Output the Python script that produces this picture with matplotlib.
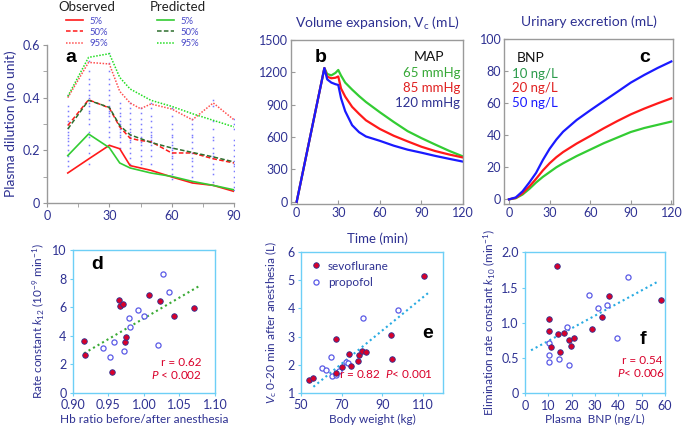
import matplotlib
matplotlib.use("Agg")
import matplotlib.pyplot as plt
from matplotlib.lines import Line2D

plt.rcParams['font.family'] = ['Lato', 'DejaVu Sans']
plt.rcParams['mathtext.fontset'] = 'custom'
plt.rcParams['mathtext.rm'] = 'Lato'
plt.rcParams['mathtext.it'] = 'Lato:italic'

NAVY = '#2e3192'
GRAY = '#9a9a9a'
CYAN = '#6dcff6'
RED = '#ff1a1a'
GREEN = '#33cc33'
DKGREEN = '#2d6e2d'
BLUE = '#1a1aff'

# ---- panel a: plasma dilution ----
t_obs = [10, 20, 30, 35, 40, 45, 50, 60, 70, 80, 90]
obs_p5 = [0.114, 0.167, 0.219, 0.206, 0.142, 0.133, 0.124, 0.099, 0.076, 0.067, 0.044]
obs_p50 = [0.294, 0.392, 0.361, 0.289, 0.246, 0.237, 0.233, 0.190, 0.190, 0.168, 0.152]
obs_p95 = [0.400, 0.534, 0.528, 0.424, 0.380, 0.358, 0.376, 0.357, 0.316, 0.380, 0.316]
t_pred = [10, 20, 30, 35, 40, 50, 60, 70, 80, 90]
pred_p5 = [0.180, 0.262, 0.210, 0.152, 0.133, 0.114, 0.101, 0.082, 0.067, 0.050]
pred_p50 = [0.281, 0.390, 0.363, 0.294, 0.259, 0.230, 0.209, 0.192, 0.175, 0.156]
pred_p95 = [0.405, 0.553, 0.567, 0.477, 0.433, 0.390, 0.367, 0.339, 0.314, 0.289]
dots = {
    10: [0.41, 0.37, 0.35, 0.33, 0.31, 0.30, 0.285, 0.27, 0.26, 0.245, 0.235, 0.22, 0.20, 0.18, 0.16, 0.14],
    20: [0.54, 0.50, 0.47, 0.45, 0.43, 0.41, 0.40, 0.38, 0.37, 0.35, 0.34, 0.32, 0.30, 0.27, 0.25, 0.22, 0.19, 0.15],
    30: [0.57, 0.53, 0.50, 0.47, 0.45, 0.43, 0.41, 0.39, 0.37, 0.36, 0.35, 0.34, 0.33, 0.31, 0.29, 0.27, 0.25, 0.22],
    35: [0.38, 0.36, 0.34, 0.33, 0.31, 0.30, 0.29, 0.28, 0.27, 0.26, 0.25, 0.23, 0.21],
    40: [0.38, 0.36, 0.34, 0.32, 0.30, 0.28, 0.27, 0.26, 0.25, 0.24, 0.23, 0.21, 0.19, 0.17, 0.15],
    45: [0.36, 0.34, 0.32, 0.30, 0.28, 0.27, 0.25, 0.24, 0.23, 0.22, 0.20, 0.18, 0.16, 0.15],
    50: [0.38, 0.36, 0.33, 0.31, 0.29, 0.27, 0.26, 0.25, 0.24, 0.23, 0.22, 0.20, 0.18, 0.15],
    60: [0.36, 0.33, 0.30, 0.28, 0.26, 0.25, 0.23, 0.22, 0.21, 0.20, 0.19, 0.18, 0.17, 0.15, 0.13, 0.11, 0.09],
    70: [0.32, 0.30, 0.28, 0.26, 0.25, 0.23, 0.21, 0.19, 0.17, 0.16, 0.14, 0.12, 0.10, 0.08],
    80: [0.39, 0.37, 0.31, 0.28, 0.25, 0.24, 0.21, 0.19, 0.18, 0.17, 0.15, 0.13, 0.11, 0.08, 0.07],
    90: [0.32, 0.30, 0.28, 0.24, 0.22, 0.20, 0.18, 0.16, 0.15, 0.14, 0.12, 0.10, 0.08, 0.06, 0.05],
}

# ---- panel b: volume expansion ----
t_b = [0, 20, 22, 25, 28, 30, 32, 35, 40, 45, 50, 60, 70, 80, 90, 100, 110, 120]
vc_65 = [0, 1240, 1185, 1172, 1195, 1222, 1170, 1105, 1040, 980, 925, 830, 740, 655, 590, 530, 472, 420]
vc_85 = [0, 1240, 1160, 1145, 1150, 1162, 1050, 975, 880, 815, 755, 675, 612, 560, 510, 470, 438, 410]
vc_120 = [0, 1240, 1135, 1105, 1090, 1083, 960, 840, 710, 645, 605, 565, 520, 483, 455, 425, 398, 372]

# ---- panel c: urinary excretion ----
t_c = [0, 5, 10, 15, 20, 25, 30, 35, 40, 50, 60, 70, 80, 90, 100, 110, 120]
ur_10 = [0, 0.7, 3.0, 6.5, 10.5, 14.0, 17.0, 20.0, 22.5, 27.0, 31.0, 35.0, 38.5, 42.0, 44.5, 46.5, 48.5]
ur_20 = [0, 0.9, 3.8, 8.0, 12.8, 18.0, 22.5, 26.3, 29.5, 34.8, 39.5, 44.3, 48.8, 53.0, 56.6, 59.9, 63.0]
ur_50 = [0, 1.2, 5.0, 10.5, 16.5, 24.5, 31.5, 37.3, 42.2, 49.5, 55.5, 61.3, 67.0, 72.8, 77.6, 82.0, 86.0]

# ---- panel d ----
d_sevo_x = [0.916, 0.917, 0.955, 0.965, 0.967, 0.970, 0.974, 0.975, 1.007, 1.022, 1.042, 1.070]
d_sevo_y = [3.62, 2.66, 1.43, 6.50, 6.05, 6.19, 3.53, 3.93, 6.87, 6.45, 5.35, 5.91]
d_prop_x = [0.942, 0.953, 0.958, 0.972, 0.979, 0.981, 0.992, 1.000, 1.020, 1.027, 1.036]
d_prop_y = [3.15, 2.48, 3.55, 2.94, 5.26, 4.58, 5.79, 5.40, 3.34, 8.34, 7.08]
d_fit_x = [0.916, 1.078]
d_fit_y = [2.76, 7.48]

# ---- panel e ----
e_sevo_x = [54.1, 55.7, 67.0, 67.2, 70.2, 73.4, 74.8, 78.2, 78.4, 80.2, 82.0, 94.1, 94.9, 110.5]
e_sevo_y = [1.44, 1.53, 2.92, 1.69, 1.90, 2.37, 1.96, 2.12, 2.34, 2.47, 2.44, 3.07, 2.19, 5.17]
e_prop_x = [60.2, 62.1, 64.9, 65.1, 67.0, 68.7, 72.0, 73.3, 80.3, 97.9]
e_prop_y = [1.89, 1.81, 2.27, 1.59, 1.63, 1.78, 2.10, 2.05, 3.67, 3.95]
e_fit_x = [56.1, 113.4]
e_fit_y = [1.21, 4.60]

# ---- panel f ----
f_sevo_x = [13.6, 10.1, 10.1, 11.1, 14.1, 15.1, 16.9, 18.7, 19.6, 21.1, 28.7, 32.9, 36.1, 58.1]
f_sevo_y = [1.81, 1.06, 0.89, 0.65, 0.84, 0.59, 0.86, 0.75, 0.67, 0.79, 0.91, 1.08, 1.38, 1.32]
f_prop_x = [10.1, 10.1, 10.1, 14.7, 18.1, 19.0, 27.3, 31.1, 35.1, 39.4, 44.0]
f_prop_y = [0.71, 0.54, 0.45, 0.49, 0.94, 0.40, 1.39, 1.21, 1.25, 0.78, 1.65]
f_fit_x = [2.6, 56.7]
f_fit_y = [0.61, 1.58]

W, H = 685, 428
fig = plt.figure(figsize=(W / 100, H / 100), dpi=100)


def add_ax(left, top, right, bottom):
    return fig.add_axes([left / W, 1 - bottom / H, (right - left) / W, (bottom - top) / H])


def style(ax, spine_color, tick_dir):
    for s in ax.spines.values():
        s.set_color(spine_color)
        s.set_linewidth(1.0)
    ax.tick_params(direction=tick_dir, color=spine_color, labelcolor=NAVY,
                   labelsize=9, length=3, width=0.8, pad=2)


# panel a
ax = add_ax(47, 45, 234, 203)
style(ax, GRAY, 'out')
ax.spines['top'].set_visible(False)
ax.spines['right'].set_visible(False)
for t, vals in dots.items():
    ax.plot([t] * len(vals), vals, 's', ms=1.1, color='#7a7aff', mec='none')
ax.plot(t_obs, obs_p5, color=RED, lw=1.2)
ax.plot(t_obs, obs_p50, color=RED, lw=1.1, ls=(0, (3, 1.5)))
ax.plot(t_obs, obs_p95, color='#ff5050', lw=1.1, ls=(0, (1, 1)))
ax.plot(t_pred, pred_p5, color=GREEN, lw=1.2)
ax.plot(t_pred, pred_p50, color=DKGREEN, lw=1.1, ls=(0, (3, 1.5)))
ax.plot(t_pred, pred_p95, color='#22dd22', lw=1.1, ls=(0, (1, 1)))
ax.set_xlim(0, 90)
ax.set_ylim(0, 0.6)
ax.set_xticks([0, 30, 60, 90])
ax.set_xticks([15, 45, 75], minor=True)
ax.set_yticks([0, 0.2, 0.4, 0.6])
ax.set_yticklabels(['0', '0.2', '0.4', '0.6'])
ax.set_yticks([0.1, 0.3, 0.5], minor=True)
ax.tick_params(which='minor', direction='out', color=GRAY, length=3)
ax.set_ylabel('Plasma dilution (no unit)', color=NAVY, fontsize=10, labelpad=4)
ax.text(0.1, 0.92, 'a', transform=ax.transAxes, fontsize=14, fontweight='bold',
        family='Liberation Sans', va='center')

obs_h = [Line2D([], [], color=RED, lw=1.2),
         Line2D([], [], color=RED, lw=1.1, ls=(0, (3, 1.5))),
         Line2D([], [], color='#ff5050', lw=1.1, ls=(0, (1, 1)))]
pred_h = [Line2D([], [], color=GREEN, lw=1.2),
          Line2D([], [], color=DKGREEN, lw=1.1, ls=(0, (3, 1.5))),
          Line2D([], [], color='#22dd22', lw=1.1, ls=(0, (1, 1)))]
for handles, title, cx in [(obs_h, 'Observed', 87), (pred_h, 'Predicted', 178)]:
    lg = fig.legend(handles, ['5%', '50%', '95%'], title=title, loc='upper center',
                    bbox_to_anchor=(cx / W, 1.012), frameon=False, fontsize=6.8,
                    title_fontsize=9.5, labelcolor='#4848c8', handlelength=1.8,
                    handletextpad=0.6, labelspacing=0.22, borderpad=0.1)
    lg.get_title().set_color('#222222')
    lg._legend_box.sep = 3

# panel b
ax = add_ax(291, 40, 463, 204)
style(ax, GRAY, 'in')
ax.plot(t_b, vc_65, color=GREEN, lw=1.6)
ax.plot(t_b, vc_85, color=RED, lw=1.6)
ax.plot(t_b, vc_120, color=BLUE, lw=1.6)
ax.set_xlim(-4.1, 120)
ax.set_ylim(-21, 1500)
ax.set_xticks([0, 30, 60, 90, 120])
ax.set_yticks([0, 300, 600, 900, 1200, 1500])
ax.set_title('Volume expansion, V$_\\mathregular{c}$ (mL)', color=NAVY, fontsize=10, pad=9)
ax.set_xlabel('Time (min)', color=NAVY, fontsize=9.5, labelpad=10)
ax.text(0.14, 0.895, 'b', transform=ax.transAxes, fontsize=14, fontweight='bold',
        family='Liberation Sans', va='center')
ax.text(0.8, 0.895, 'MAP', transform=ax.transAxes, fontsize=10, color='#111111', ha='center', va='center')
for txt, col, y in [('65 mmHg', '#36a836', 0.8), ('85 mmHg', '#e02020', 0.708), ('120 mmHg', NAVY, 0.616)]:
    ax.text(0.985, y, txt, transform=ax.transAxes, fontsize=9.5, color=col, ha='right', va='center')

# panel c
ax = add_ax(504, 39, 673, 204)
style(ax, GRAY, 'in')
ax.plot(t_c, ur_10, color=GREEN, lw=1.6)
ax.plot(t_c, ur_20, color=RED, lw=1.6)
ax.plot(t_c, ur_50, color=BLUE, lw=1.6)
ax.set_xlim(-3.7, 121.2)
ax.set_ylim(-2.9, 100)
ax.set_xticks([0, 30, 60, 90, 120])
ax.set_yticks([0, 20, 40, 60, 80, 100])
ax.set_title('Urinary excretion (mL)', color=NAVY, fontsize=10, pad=9)
ax.text(0.16, 0.885, 'BNP', transform=ax.transAxes, fontsize=10, color='#111111', ha='center', va='center')
for txt, col, y in [('10 ng/L', '#2a9a4a', 0.79), ('20 ng/L', '#e02020', 0.70), ('50 ng/L', BLUE, 0.613)]:
    ax.text(0.045, y, txt, transform=ax.transAxes, fontsize=9.5, color=col, ha='left', va='center')
ax.text(0.8, 0.885, 'c', transform=ax.transAxes, fontsize=14, fontweight='bold',
        family='Liberation Sans', va='center')


def scatter_panel(ax, sx, sy, px, py, fx, fy, fit_color):
    ax.plot(fx, fy, color=fit_color, lw=1.5, ls=(0, (1, 1.5)), zorder=1)
    ax.plot(px, py, 'o', ms=3.7, mfc='white', mec='#5a5ae6', mew=0.9, zorder=2, label='propofol')
    ax.plot(sx, sy, 'o', ms=4.0, mfc='#d9002a', mec=NAVY, mew=0.6, zorder=3, label='sevoflurane')
    style(ax, CYAN, 'out')
    ax.tick_params(labelsize=9, length=2.5)


# panel d
ax = add_ax(72.7, 250, 215, 392.7)
scatter_panel(ax, d_sevo_x, d_sevo_y, d_prop_x, d_prop_y, d_fit_x, d_fit_y, '#3aaa35')
ax.set_xlim(0.9, 1.1)
ax.set_ylim(0, 10)
ax.set_xticks([0.90, 0.95, 1.00, 1.05, 1.10])
ax.set_xticklabels(['0.90', '0.95', '1.00', '1.05', '1.10'])
ax.set_yticks([0, 2, 4, 6, 8, 10])
ax.set_xlabel('Hb ratio before/after anesthesia', color=NAVY, fontsize=8.5, labelpad=2)
ax.set_ylabel('Rate constant $k_{12}$ (10$^{-9}$ min$^{-1}$)', color=NAVY, fontsize=8.5, labelpad=4)
ax.text(0.13, 0.9, 'd', transform=ax.transAxes, fontsize=14, fontweight='bold',
        family='Liberation Sans', va='center')
ax.text(0.905, 0.215, 'r = 0.62', transform=ax.transAxes, fontsize=8.5, color='#d9002a', ha='right', va='center')
ax.text(0.905, 0.125, '$P$ < 0.002', transform=ax.transAxes, fontsize=8.5, color='#d9002a', ha='right', va='center')

# panel e
ax = add_ax(301, 252.3, 443.3, 392.7)
scatter_panel(ax, e_sevo_x, e_sevo_y, e_prop_x, e_prop_y, e_fit_x, e_fit_y, '#29abe2')
ax.set_xlim(50, 120)
ax.set_ylim(1, 6)
ax.set_xticks([50, 70, 90, 110])
ax.set_yticks([1, 2, 3, 4, 5, 6])
ax.set_xlabel('Body weight (kg)', color=NAVY, fontsize=8.5, labelpad=2)
ax.set_ylabel('$V_\\mathregular{c}$ 0-20 min after anesthesia (L)', color=NAVY, fontsize=8.5, labelpad=6)
h, l = ax.get_legend_handles_labels()
ax.legend(h[::-1], l[::-1], loc='upper left', frameon=False, fontsize=8.5, labelcolor=NAVY,
          handletextpad=0.4, borderaxespad=0.3, labelspacing=0.45, handlelength=1.2)
ax.text(0.89, 0.42, 'e', transform=ax.transAxes, fontsize=14, fontweight='bold',
        family='Liberation Sans', va='center', ha='center')
ax.text(0.93, 0.13, 'r = 0.82  $P$< 0.001', transform=ax.transAxes, fontsize=8.5,
        color='#d9002a', ha='right', va='center')

# panel f
ax = add_ax(525, 252.3, 665, 393.3)
scatter_panel(ax, f_sevo_x, f_sevo_y, f_prop_x, f_prop_y, f_fit_x, f_fit_y, '#29abe2')
ax.set_xlim(0, 60)
ax.set_ylim(0, 2)
ax.set_xticks([0, 10, 20, 30, 40, 50, 60])
ax.set_yticks([0, 0.5, 1.0, 1.5, 2.0])
ax.set_yticklabels(['0', '0.5', '1.0', '1.5', '2.0'])
ax.set_xlabel('Plasma  BNP (ng/L)', color=NAVY, fontsize=8.5, labelpad=2)
ax.set_ylabel('Elimination rate constant $k_{10}$ (min$^{-1}$)', color=NAVY, fontsize=8.5, labelpad=3)
ax.text(0.845, 0.385, 'f', transform=ax.transAxes, fontsize=14, fontweight='bold',
        family='Liberation Sans', va='center', ha='center')
ax.text(0.84, 0.235, 'r = 0.54', transform=ax.transAxes, fontsize=8.5, color='#d9002a', ha='center', va='center')
ax.text(0.83, 0.145, '$P$< 0.006', transform=ax.transAxes, fontsize=8.5, color='#d9002a', ha='center', va='center')

fig.savefig('out.png', dpi=100)
